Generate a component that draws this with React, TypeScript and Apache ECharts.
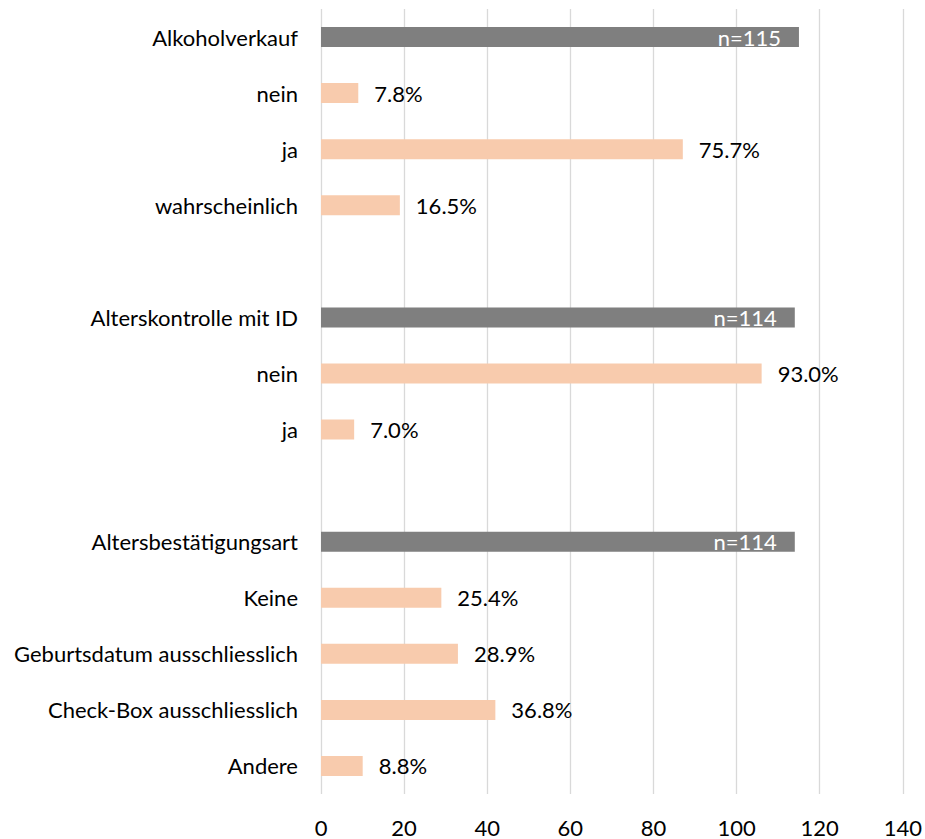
import React, { useEffect, useRef } from "react";
import * as echarts from "echarts";

// Survey blocks: each heading bar shows the sample size, the answer bars below show shares.
const groupNames = ["Alkoholverkauf", "Alterskontrolle mit ID", "Altersbestätigungsart"];
const groupN = [115, 114, 114];
const answerLabels = [
  ["nein", "ja", "wahrscheinlich"],
  ["nein", "ja"],
  ["Keine", "Geburtsdatum ausschliesslich", "Check-Box ausschliesslich", "Andere"],
];
const answerPercents = [
  [7.8, 75.7, 16.5],
  [93.0, 7.0],
  [25.4, 28.9, 36.8, 8.8],
];
const xTicks = { min: 0, max: 140, interval: 20 };

const HEADER_COLOR = "#7F7F7F";
const ANSWER_COLOR = "#F8CBAD";
const FONT = "Lato, 'Noto Sans', sans-serif";
const FONT_SIZE = 22;

type Row = { label: string; kind: "header" | "answer" | "gap"; value: number | null; pct?: number; n?: number };

function buildRows(): Row[] {
  const rows: Row[] = [];
  groupNames.forEach((name, g) => {
    if (g > 0) rows.push({ label: "", kind: "gap", value: null });
    rows.push({ label: name, kind: "header", value: groupN[g], n: groupN[g] });
    answerLabels[g].forEach((lab, i) => {
      const pct = answerPercents[g][i];
      rows.push({ label: lab, kind: "answer", value: (groupN[g] * pct) / 100, pct });
    });
  });
  return rows;
}

export default function App() {
  const ref = useRef<HTMLDivElement>(null);

  useEffect(() => {
    if (!ref.current) return;
    const chart = echarts.init(ref.current, null, { renderer: "svg" });
    const rows = buildRows();

    const data = rows.map((r) => {
      if (r.kind === "gap") return { value: "-" as any };
      if (r.kind === "header") {
        return {
          value: r.value,
          itemStyle: { color: HEADER_COLOR },
          label: {
            show: true,
            position: "insideRight",
            distance: 5,
            offset: [-13, 0],
            color: "#FFFFFF",
            fontFamily: FONT,
            fontSize: FONT_SIZE,
            formatter: () => `n=${r.n}`,
          },
        };
      }
      return {
        value: r.value,
        itemStyle: { color: ANSWER_COLOR },
        label: {
          show: true,
          position: "right",
          distance: 16,
          color: "#000000",
          fontFamily: FONT,
          fontSize: FONT_SIZE,
          formatter: () => `${(r.pct as number).toFixed(1)}%`,
        },
      };
    });

    chart.setOption({
      animation: false,
      backgroundColor: "#FFFFFF",
      grid: { left: 321, right: 20, top: 9, bottom: 45, containLabel: false },
      xAxis: {
        type: "value",
        min: xTicks.min,
        max: xTicks.max,
        interval: xTicks.interval,
        axisLine: { show: false },
        axisTick: { show: false },
        splitLine: { show: true, lineStyle: { color: "#D9D9D9", width: 1.3 } },
        axisLabel: { color: "#000000", fontFamily: FONT, fontSize: FONT_SIZE, margin: 22 },
      },
      yAxis: {
        type: "category",
        inverse: true,
        data: rows.map((_, i) => String(i)),
        axisLine: { show: false },
        axisTick: { show: false },
        splitLine: { show: false },
        axisLabel: {
          color: "#000000",
          fontFamily: FONT,
          fontSize: FONT_SIZE,
          margin: 23,
          interval: 0,
          formatter: (_v: string, idx: number) => rows[idx].label,
        },
      },
      series: [
        {
          type: "bar",
          barWidth: 20,
          data,
        },
      ],
    });

    return () => chart.dispose();
  }, []);

  return (
    <div
      ref={ref}
      style={{ position: "absolute", left: 0, top: 0, width: 925, height: 839 }}
    />
  );
}
